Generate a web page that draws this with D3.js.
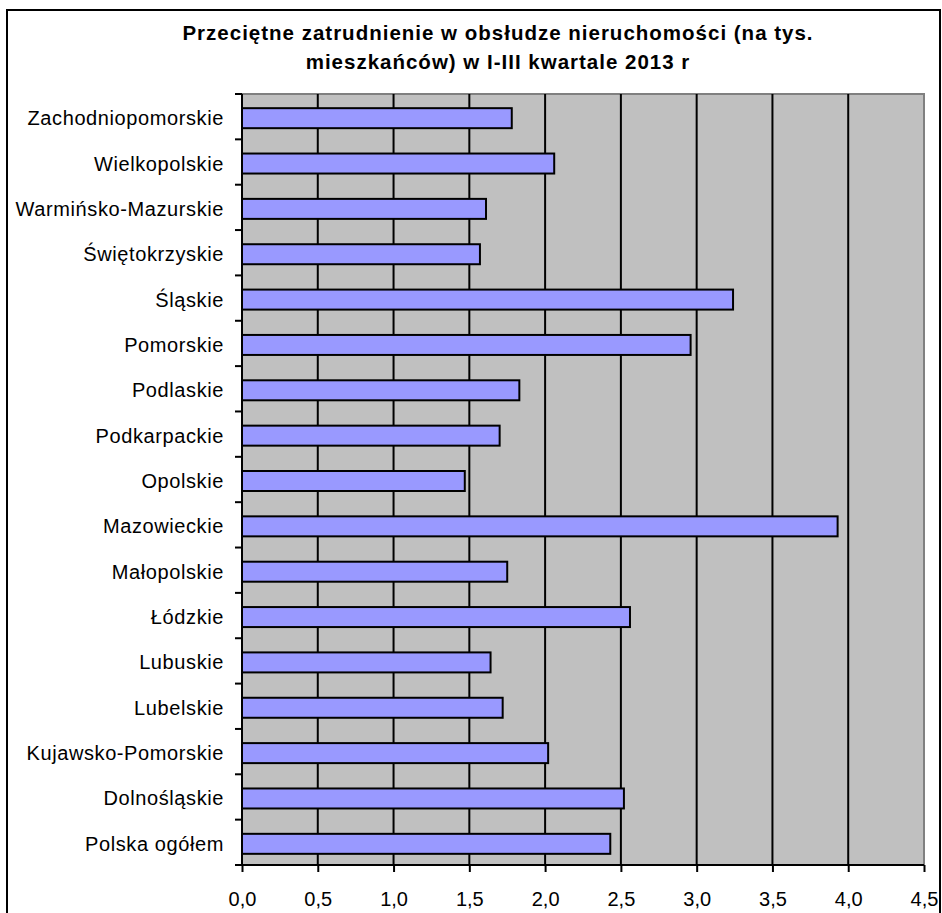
<!DOCTYPE html>
<html>
<head>
<meta charset="utf-8">
<script src="https://cdn.jsdelivr.net/npm/d3@7"></script>
<style>
  body { margin: 0; background: #fff; }
  text { font-family: "Liberation Sans", Arial, sans-serif; }
</style>
</head>
<body>
<svg id="chart" width="942" height="913"></svg>
<script>
// data
var regions = ["Zachodniopomorskie", "Wielkopolskie", "Warmińsko-Mazurskie", "Świętokrzyskie",
  "Śląskie", "Pomorskie", "Podlaskie", "Podkarpackie", "Opolskie", "Mazowieckie",
  "Małopolskie", "Łódzkie", "Lubuskie", "Lubelskie", "Kujawsko-Pomorskie",
  "Dolnośląskie", "Polska ogółem"];
var values = [1.78, 2.06, 1.61, 1.57, 3.24, 2.96, 1.83, 1.70, 1.47, 3.93,
  1.75, 2.56, 1.64, 1.72, 2.02, 2.52, 2.43];
var xTicks = [0, 0.5, 1, 1.5, 2, 2.5, 3, 3.5, 4, 4.5];
var titleLines = ["Przeciętne zatrudnienie w obsłudze nieruchomości (na tys.",
  "mieszkańców) w I-III kwartale 2013 r"];

var svg = d3.select("#chart");

// plot box ("top" is taken by window.top, so use other names)
var plotL = 242, plotR = 924, plotT = 94, plotB = 865;

var x = d3.scaleLinear().domain([0, 4.5]).range([plotL, plotR]);
var y = d3.scaleBand().domain(regions).range([plotT, plotB]).padding(0);
var barH = 20;

var fmt = function(d) { return d3.format(".1f")(d).replace(".", ","); };

// outer frame
svg.append("rect")
  .attr("x", 7).attr("y", 10)
  .attr("width", 933).attr("height", 930)
  .attr("fill", "#fff")
  .attr("stroke", "#000")
  .attr("stroke-width", 2);

// title
svg.append("g").selectAll("text")
  .data(titleLines)
  .enter().append("text")
  .attr("x", 498)
  .attr("y", function(d, i) { return 40 + i * 29; })
  .attr("text-anchor", "middle")
  .attr("font-size", "20.5px")
  .attr("font-weight", "bold")
  .attr("letter-spacing", "1px")
  .text(function(d) { return d; });

// plot area
svg.append("rect")
  .attr("x", plotL).attr("y", plotT)
  .attr("width", plotR - plotL).attr("height", plotB - plotT)
  .attr("fill", "#c0c0c0");

svg.append("path")
  .attr("d", "M" + plotL + "," + plotT + "H" + plotR + "V" + plotB)
  .attr("fill", "none")
  .attr("stroke", "#808080")
  .attr("stroke-width", 2);

// gridlines
svg.append("g").selectAll("line")
  .data(xTicks.filter(function(d) { return d > 0 && d < 4.5; }))
  .enter().append("line")
  .attr("x1", function(d) { return x(d); })
  .attr("x2", function(d) { return x(d); })
  .attr("y1", plotT).attr("y2", plotB)
  .attr("stroke", "#000")
  .attr("stroke-width", 2);

// bars
svg.append("g").selectAll("rect")
  .data(regions)
  .enter().append("rect")
  .attr("x", x(0))
  .attr("y", function(d) { return y(d) + (y.bandwidth() - barH) / 2 + 1.5; })
  .attr("width", function(d, i) { return x(values[i]) - x(0); })
  .attr("height", barH)
  .attr("fill", "#9999ff")
  .attr("stroke", "#000")
  .attr("stroke-width", 2);

// left axis with ticks at band boundaries
var bounds = regions.map(function(d) { return y(d); }).concat([plotB]);
svg.append("line")
  .attr("x1", plotL).attr("x2", plotL)
  .attr("y1", plotT).attr("y2", plotB)
  .attr("stroke", "#000").attr("stroke-width", 2);
svg.append("g").selectAll("line")
  .data(bounds)
  .enter().append("line")
  .attr("x1", plotL - 7).attr("x2", plotL)
  .attr("y1", function(d) { return d; })
  .attr("y2", function(d) { return d; })
  .attr("stroke", "#000").attr("stroke-width", 2);

svg.append("g").selectAll("text")
  .data(regions)
  .enter().append("text")
  .attr("x", 224)
  .attr("y", function(d) { return y(d) + y.bandwidth() / 2 + 1.5; })
  .attr("dy", "0.35em")
  .attr("text-anchor", "end")
  .attr("font-size", "20px")
  .attr("letter-spacing", "0.6px")
  .attr("fill", "#000")
  .text(function(d) { return d; });

// bottom axis
var xAxis = d3.axisBottom(x)
  .tickValues(xTicks)
  .tickFormat(fmt)
  .tickSize(7)
  .tickPadding(20);

var gx = svg.append("g")
  .attr("transform", "translate(0," + plotB + ")")
  .call(xAxis);
gx.select(".domain").remove();
gx.selectAll(".tick line").attr("stroke", "#000").attr("stroke-width", 2);
gx.selectAll(".tick text")
  .attr("font-size", "20px")
  .attr("font-family", "Liberation Sans, Arial, sans-serif")
  .attr("fill", "#000");
gx.append("line")
  .attr("x1", plotL - 7).attr("x2", plotR)
  .attr("y1", 0).attr("y2", 0)
  .attr("stroke", "#000").attr("stroke-width", 2);
</script>
</body>
</html>
